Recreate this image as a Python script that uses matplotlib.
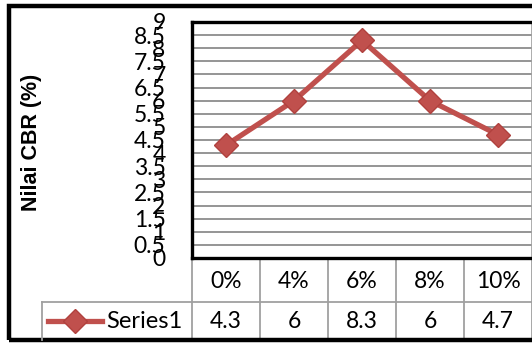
import numpy as np
import matplotlib
matplotlib.use("Agg")
import matplotlib.pyplot as plt
from matplotlib.transforms import blended_transform_factory
from matplotlib.patches import Rectangle
from matplotlib.lines import Line2D

# CBR value for each additive percentage
categories = ["0%", "4%", "6%", "8%", "10%"]
cbr = [4.3, 6, 8.3, 6, 4.7]
series_name = "Series1"
y_ticks = np.arange(0, 9.01, 0.5)

plt.rcParams["font.family"] = ["Lato", "DejaVu Sans"]
FS = 16.5
RED = "#C0504D"
MS = 12.5

W, H = 532, 345
fig = plt.figure(figsize=(W / 100, H / 100), dpi=100)


def fx(px):
    return px / W


def fy(py):
    return 1 - py / H


# outer chart border
fig.patches.append(Rectangle((fx(9), fy(340)), fx(560), fy(6) - fy(340),
                             transform=fig.transFigure, fill=False,
                             edgecolor="black", linewidth=3.2))

ax = fig.add_axes([fx(192), fy(258), fx(532) - fx(192), fy(22) - fy(258)])
x = np.arange(len(categories))
ax.plot(x, cbr, color=RED, linewidth=3.8, marker="D", markersize=MS,
        markerfacecolor=RED, markeredgecolor="#B0413E", zorder=3)

ax.set_xlim(-0.5, len(categories) - 0.5)
ax.set_ylim(0, 9)
ax.set_yticks(y_ticks)
ax.set_yticklabels([f"{v:g}" for v in y_ticks], fontsize=FS)
ax.tick_params(axis="y", length=0, pad=19)
ax.set_xticks([])
ax.yaxis.grid(True, color="#8c8c8c", linewidth=1.3)
ax.set_axisbelow(True)
for s in ["left", "top", "bottom"]:
    ax.spines[s].set_linewidth(2.4)
    ax.spines[s].set_color("black")
ax.spines["right"].set_color("#a0a0a0")
ax.spines["right"].set_linewidth(1.2)

# axis title
fig.text(fx(32), fy(142), "Nilai CBR (%)", rotation=90, ha="center",
         va="center", fontsize=15.5, fontweight="bold",
         family=["Liberation Sans", "DejaVu Sans"])

# data table under the plot
tr = blended_transform_factory(ax.transData, fig.transFigure)
grid_kw = dict(color="#a0a0a0", linewidth=1.3, clip_on=False)
row_mid_top = fy(281)
row_mid_bot = fy(321)
for xi in np.arange(-0.5, len(categories), 1.0):
    ax.add_line(Line2D([xi, xi], [fy(258), fy(340)], transform=tr, **grid_kw))
ax.add_line(Line2D([-0.5, len(categories) - 0.5], [fy(302), fy(302)],
                   transform=tr, **grid_kw))
for i, (c, v) in enumerate(zip(categories, cbr)):
    ax.text(i, row_mid_top, c, transform=tr, ha="center", va="center",
            fontsize=FS)
    ax.text(i, row_mid_bot, f"{v:g}", transform=tr, ha="center", va="center",
            fontsize=FS)

# legend key cell
fig.add_artist(Line2D([fx(42), fx(192)], [fy(302), fy(302)], **grid_kw))
fig.add_artist(Line2D([fx(42), fx(42)], [fy(302), fy(340)], **grid_kw))
fig.add_artist(Line2D([fx(48), fx(102)], [row_mid_bot, row_mid_bot],
                      color=RED, linewidth=3.8))
fig.add_artist(Line2D([fx(75)], [row_mid_bot], marker="D", markersize=MS,
                      color=RED, markeredgecolor="#B0413E"))
fig.text(fx(106), row_mid_bot, series_name, ha="left", va="center",
         fontsize=17)

fig.savefig("out.png", dpi=100)
